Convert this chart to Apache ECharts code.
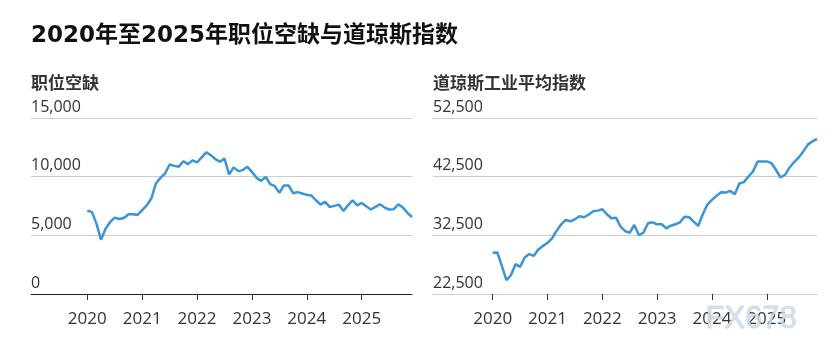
<!DOCTYPE html>
<html>
<head>
<meta charset="utf-8">
<script src="https://cdn.jsdelivr.net/npm/echarts@6/dist/echarts.min.js"></script>
<style>html,body{margin:0;padding:0;background:#fff;}#c{width:833px;height:351px;}</style>
</head>
<body>
<div id="c"></div>
<script>
// Months (monthly points, Jan 2020 .. Dec 2025)
const startYear = 2020;
const yearTicks = ['2020', '2021', '2022', '2023', '2024', '2025'];
// Job openings (thousands)
const jobOpenings = [
  7100, 7000, 6000, 4630, 5570, 6140, 6510, 6390, 6480, 6800, 6800, 6740,
  7140, 7560, 8140, 9420, 9900, 10270, 11040, 10920, 10840, 11320, 11070, 11380,
  11210, 11640, 12070, 11840, 11500, 11270, 11550, 10190, 10790, 10470, 10560, 10840,
  10410, 9900, 9640, 9980, 9360, 9190, 8620, 9250, 9250, 8590, 8680, 8560,
  8450, 8390, 7990, 7620, 7850, 7420, 7510, 7620, 7080, 7560, 7990, 7560,
  7760, 7480, 7200, 7420, 7650, 7370, 7200, 7220, 7650, 7370, 6910, 6560
];
// Dow Jones Industrial Average
const dowJones = [
  29520, 29590, 27290, 24850, 25700, 27580, 27120, 28730, 29300, 29010, 30100, 30670,
  31230, 31980, 33290, 34380, 35120, 34890, 35230, 35750, 35580, 36020, 36600, 36710,
  36950, 36090, 35410, 35510, 33970, 33230, 32940, 34260, 32550, 32940, 34550, 34720,
  34380, 34380, 33700, 34140, 34380, 34720, 35680, 35580, 34830, 34140, 36090, 37750,
  38540, 39230, 39860, 39790, 40080, 39520, 41330, 41570, 42530, 43390, 45100, 45100,
  45100, 44820, 43680, 42360, 42820, 44070, 44990, 45780, 46810, 47960, 48520, 48950
];
const leftTicks = [0, 5000, 10000, 15000];
const rightTicks = [22500, 32500, 42500, 52500];
const rightBase = rightTicks[0];

const tickVals = yearTicks.map(y => (Number(y) - startYear) * 12);
const fmtNum = v => Math.round(v).toLocaleString('en-US');
const blue = '#3a95d6';
const labelFont = "'Open Sans', sans-serif";

function xAxisCfg(gridIndex, min, lineColor) {
  return {
    type: 'value', gridIndex: gridIndex, min: min, max: 71,
    splitLine: { show: false },
    axisLine: { show: true, lineStyle: { color: lineColor, width: 1 } },
    axisTick: { show: true, length: 6, customValues: tickVals, lineStyle: { color: '#333', width: 1 } },
    axisLabel: {
      customValues: tickVals, margin: 17, fontSize: 17, color: '#333', fontFamily: labelFont,
      formatter: v => String(startYear + Math.round(v / 12))
    }
  };
}
function yAxisCfg(gridIndex, max, interval, offset) {
  return {
    type: 'value', gridIndex: gridIndex, min: 0, max: max, interval: interval,
    axisLine: { show: false }, axisTick: { show: false },
    splitLine: { show: true, lineStyle: { color: '#cccccc', width: 1 } },
    axisLabel: {
      inside: true, margin: 0, verticalAlign: 'bottom', align: 'left',
      padding: [0, 0, 3, 0], fontSize: 16, color: '#333', fontFamily: labelFont,
      formatter: v => fmtNum(v + offset)
    }
  };
}

const chart = echarts.init(document.getElementById('c'), null, { renderer: 'canvas' });
chart.setOption({
  animation: false,
  backgroundColor: '#fff',
  title: [
    { text: '2020年至2025年职位空缺与道琼斯指数', left: 31, top: 25, padding: 0,
      textStyle: { fontSize: 23, lineHeight: 23, fontWeight: 'bold', color: '#111',
        fontFamily: "'DejaVu Sans','Noto Sans CJK SC', sans-serif" } },
    { text: '职位空缺', left: 31, top: 74, padding: 0,
      textStyle: { fontSize: 17, lineHeight: 17, fontWeight: 'bold', color: '#333', fontFamily: "'Noto Sans CJK SC', sans-serif" } },
    { text: '道琼斯工业平均指数', left: 433, top: 74, padding: 0,
      textStyle: { fontSize: 17, lineHeight: 17, fontWeight: 'bold', color: '#333', fontFamily: "'Noto Sans CJK SC', sans-serif" } }
  ],
  grid: [
    { left: 31, top: 118, width: 381, height: 176 },
    { left: 433, top: 118, width: 384, height: 176 }
  ],
  xAxis: [ xAxisCfg(0, -12.31, '#222'), xAxisCfg(1, -13.07, '#cccccc') ],
  yAxis: [
    yAxisCfg(0, leftTicks[leftTicks.length - 1], leftTicks[1] - leftTicks[0], 0),
    yAxisCfg(1, rightTicks[rightTicks.length - 1] - rightBase, rightTicks[1] - rightTicks[0], rightBase)
  ],
  series: [
    { type: 'line', xAxisIndex: 0, yAxisIndex: 0, showSymbol: false, symbol: 'none',
      lineStyle: { color: blue, width: 2.5 }, itemStyle: { color: blue },
      data: jobOpenings.map((v, i) => [i, v]) },
    { type: 'line', xAxisIndex: 1, yAxisIndex: 1, showSymbol: false, symbol: 'none',
      lineStyle: { color: blue, width: 2.5 }, itemStyle: { color: blue },
      data: dowJones.map((v, i) => [i, v - rightBase]) }
  ],
  graphic: [
    { type: 'text', left: 705, top: 303, z: 100,
      style: { text: 'FX678', font: "31px 'Liberation Sans', sans-serif",
        fill: 'rgba(200,222,244,0.85)', stroke: 'rgba(150,140,130,0.35)', lineWidth: 1 } }
  ]
});
</script>
</body>
</html>
